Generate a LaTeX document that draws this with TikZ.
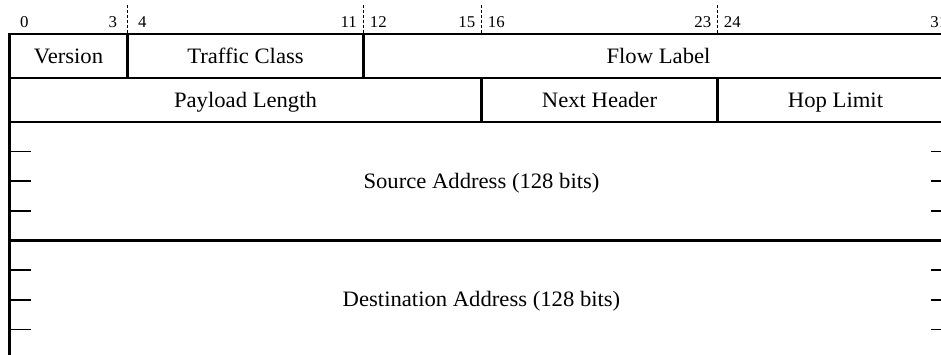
\documentclass[tikz,border=0pt]{standalone}
\usepackage{fontspec}
\setmainfont{Liberation Serif}
\usetikzlibrary{calc}
\begin{document}
\begin{tikzpicture}[x=1pt,y=-1pt,
  frame/.style={line width=2.7pt, line cap=rect},
  tickmark/.style={line width=1.6pt},
  bitsep/.style={line width=0.9pt, dash pattern=on 3pt off 2pt},
  field/.style={anchor=base, inner sep=0pt, font=\fontsize{22}{22}\selectfont, xscale=1.03},
  bitnum/.style={anchor=base, inner sep=0pt, font=\fontsize{16.5}{16.5}\selectfont, xscale=1.02}]
  \useasboundingbox (0,0) rectangle (941,355);
  \clip (0,0) rectangle (941,355);

  % bit boundaries: x of bit b is 9.5 + 29.5 b
  \foreach \b in {0,4,12,16,24,32}
    \coordinate (b\b) at ({9.5+29.5*\b},0);

  % row edges
  \def\ytop{34}\def\yone{78}\def\ytwo{122}\def\ysrc{240.5}\def\ydst{358.5}

  % bit numbers above the header
  \foreach \b in {0,3,4,11,12,15,16,23,24,31}
    \node[bitnum] (n\b) at ({9.5+29.5*\b+14.75},28) {\b};

  % dashed separators between bit numbers
  \foreach \b in {4,12,16,24}
    \draw[bitsep] (b\b |- 0,5) -- (b\b |- 0,\ytop);

  % outer frame and horizontal rules
  \draw[frame] (b0 |- 0,\ytop) -- (b32 |- 0,\ytop);
  \draw[frame] (b0 |- 0,\ytop) -- (b0 |- 0,\ydst) -- (b32 |- 0,\ydst) -- (b32 |- 0,\ytop);
  \foreach \y in {\yone,\ytwo,\ysrc}
    \draw[frame] (b0 |- 0,\y) -- (b32 |- 0,\y);

  % field separators
  \draw[frame] (b4 |- 0,\ytop) -- (b4 |- 0,\yone);
  \draw[frame] (b12 |- 0,\ytop) -- (b12 |- 0,\yone);
  \draw[frame] (b16 |- 0,\yone) -- (b16 |- 0,\ytwo);
  \draw[frame] (b24 |- 0,\yone) -- (b24 |- 0,\ytwo);

  % 32-bit word marks inside the address fields
  \foreach \y in {151.6,181.2,210.8,270.2,299.8,329.4} {
    \draw[tickmark] (b0 |- 0,\y) -- ++(21.5,0);
    \draw[tickmark] (b32 |- 0,\y) -- ++(-22.5,0);
  }

  % field names
  \node[field] (version) at ($(b0)!0.5!(b4)+(0,63.5)$) {Version};
  \node[field] (tclass)  at ($(b4)!0.5!(b12)+(0,63.5)$) {Traffic Class};
  \node[field] (flow)    at ($(b12)!0.5!(b32)+(0,63.5)$) {Flow Label};
  \node[field] (plen)    at ($(b0)!0.5!(b16)+(0,107.5)$) {Payload Length};
  \node[field] (nhdr)    at ($(b16)!0.5!(b24)+(0,107.5)$) {Next Header};
  \node[field] (hlim)    at ($(b24)!0.5!(b32)+(0,107.5)$) {Hop Limit};
  \node[field] (src)     at ($(b0)!0.5!(b32)+(0,188.5)$) {Source Address (128 bits)};
  \node[field] (dst)     at ($(b0)!0.5!(b32)+(0,306.5)$) {Destination Address (128 bits)};
\end{tikzpicture}
\end{document}
